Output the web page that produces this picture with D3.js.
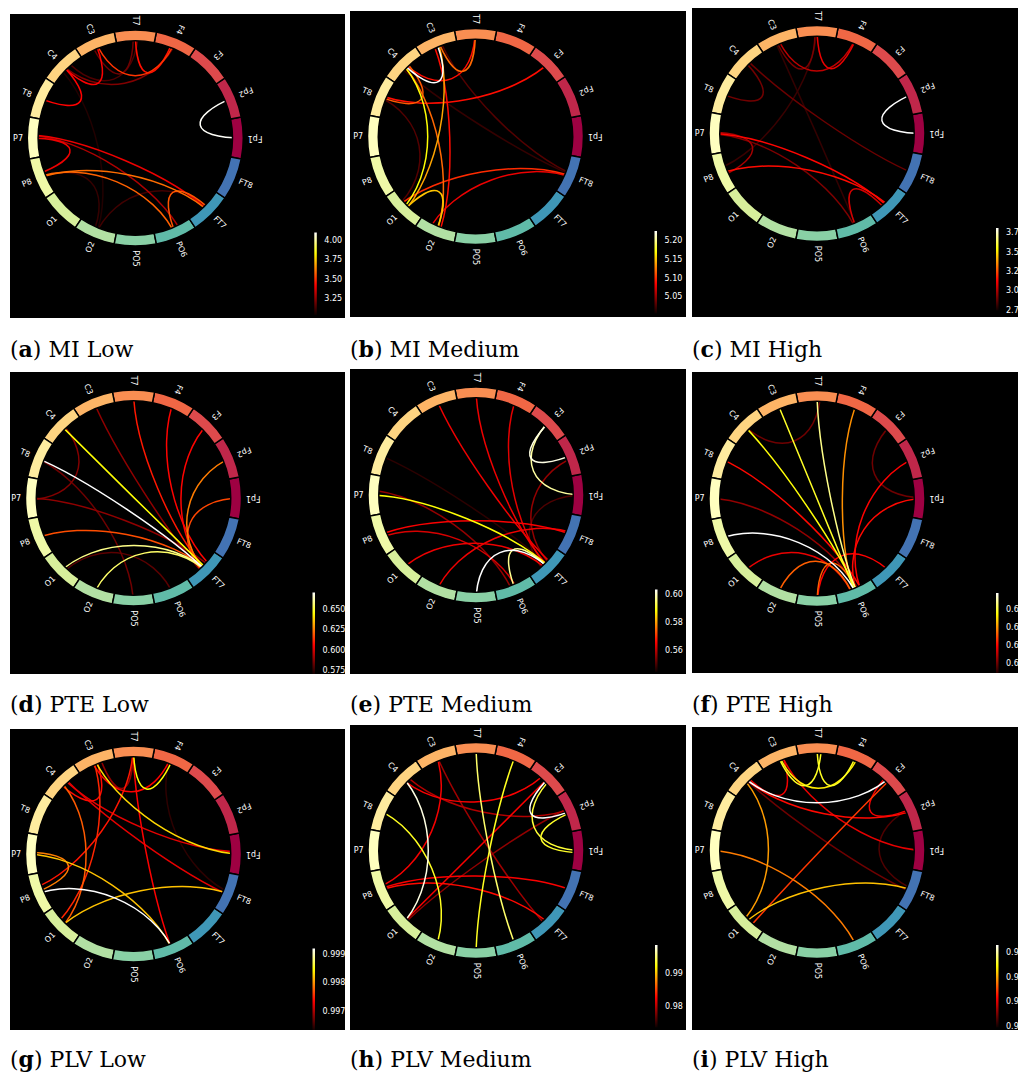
<!DOCTYPE html>
<html>
<head>
<meta charset="utf-8">
<script src="https://cdn.jsdelivr.net/npm/d3@7"></script>
<style>
  body { margin: 0; background: #fff; }
  svg { display: block; }
</style>
</head>
<body>
<svg id="fig" width="1018" height="1076"></svg>
<script>
// ---- Electrode nodes, placed counter-clockwise starting at 3 o'clock ----
const nodeNames = ["Fp1","Fp2","F3","F4","T7","C3","C4","T8",
                   "P7","P8","O1","O2","PO5","PO6","FT7","FT8"];

// ---- Connections per condition: [node A, node B, strength] ----
const miLow = [
  ["Fp1","Fp2",4.09], ["C3","F4",3.51], ["T7","F4",3.45], ["C3","C4",3.42],
  ["C4","T8",3.43], ["T7","C3",3.20], ["C4","F4",3.23], ["C4","T7",3.15],
  ["P7","FT7",3.40], ["P7","PO6",3.30], ["P7","P8",3.40], ["P8","FT7",3.60],
  ["P8","PO6",3.58], ["PO6","FT7",3.56], ["O2","FT7",3.13], ["P8","O2",3.11],
  ["C4","O2",3.08]
];
const miMedium = [
  ["C3","C4",5.225], ["C4","O1",5.17], ["C3","O1",5.14], ["O1","O2",5.15],
  ["C4","O2",5.12], ["C3","O2",5.09], ["T7","C3",5.12], ["T7","C4",5.09],
  ["T8","F3",5.09], ["T8","C4",5.115], ["T8","O1",5.03], ["O1","FT8",5.10],
  ["O2","FT8",5.08], ["C3","FT8",5.03], ["C4","FT8",5.02]
];
const miHigh = [
  ["Fp1","Fp2",3.81], ["C3","F4",3.03], ["T7","F4",3.10], ["T7","C3",2.92],
  ["C4","T8",2.91], ["C4","FT8",2.90], ["P7","FT7",3.14], ["P8","FT7",3.15],
  ["P7","P8",2.99], ["P7","PO6",2.93], ["PO6","FT7",3.06], ["T7","P8",2.82],
  ["C3","PO6",2.81]
];
const pteLow = [
  ["T8","FT7",0.670], ["C4","FT7",0.645], ["O1","FT7",0.658], ["O2","FT7",0.655],
  ["P8","FT7",0.618], ["Fp1","FT7",0.617], ["Fp2","FT7",0.625], ["F3","FT7",0.607],
  ["F4","FT7",0.607], ["T7","FT7",0.610], ["C3","FT7",0.590], ["P7","FT7",0.590],
  ["C4","P7",0.588], ["T8","PO5",0.585], ["O1","PO6",0.582]
];
const pteMedium = [
  ["PO5","FT7",0.6036], ["F3","Fp2",0.602], ["F3","Fp1",0.598], ["PO6","FT7",0.597],
  ["P7","FT7",0.589], ["C3","FT7",0.565], ["T7","FT7",0.565], ["F4","FT7",0.564],
  ["Fp2","FT7",0.557], ["Fp1","FT7",0.551], ["T8","FT7",0.548], ["P8","FT8",0.566],
  ["O1","FT7",0.565], ["O2","FT8",0.565], ["P7","PO6",0.557], ["P8","PO6",0.563]
];
const pteHigh = [
  ["P8","PO6",0.679], ["T7","PO6",0.668], ["C3","PO6",0.659], ["C4","PO6",0.656],
  ["F4","PO6",0.640], ["T8","PO6",0.621], ["P7","PO6",0.605], ["Fp2","PO6",0.620],
  ["Fp1","PO6",0.621], ["O1","PO6",0.617], ["O2","PO6",0.633], ["PO5","PO6",0.633],
  ["PO5","FT7",0.620], ["F3","Fp1",0.600], ["C4","T7",0.600]
];
const plvLow = [
  ["P8","PO6",0.9992], ["T7","F4",0.99847], ["C3","F4",0.99735], ["C3","Fp1",0.9983],
  ["C4","Fp1",0.99725], ["C4","FT8",0.99725], ["O1","FT8",0.99820], ["P7","PO6",0.99820],
  ["P7","P8",0.99790], ["P8","T7",0.99745], ["C4","O1",0.99775], ["C3","O1",0.99752],
  ["C3","C4",0.99740], ["T7","PO6",0.99735], ["T7","C3",0.99688], ["F4","FT8",0.99645]
];
const plvMedium = [
  ["F3","Fp2",0.9985], ["C4","O1",0.9978], ["F3","Fp1",0.9935], ["Fp2","Fp1",0.9932],
  ["T7","PO6",0.9948], ["F4","PO5",0.9930], ["T8","O2",0.9930], ["C3","P8",0.9824],
  ["C3","FT7",0.9792], ["C4","F3",0.9826], ["C4","Fp2",0.9799], ["F3","O1",0.9826],
  ["Fp2","O1",0.9787], ["P8","FT8",0.9826], ["P8","FT7",0.9831]
];
const plvHigh = [
  ["C4","F3",0.9915], ["T7","C3",0.9878], ["T7","F4",0.9878], ["C3","F4",0.9868],
  ["C3","C4",0.9806], ["C4","Fp2",0.9811], ["F3","Fp2",0.9806], ["C3","Fp1",0.9803],
  ["C4","FT8",0.9773], ["F3","O1",0.9823], ["C4","O1",0.9848], ["O1","FT8",0.9857],
  ["P7","PO6",0.9840], ["Fp2","FT8",0.9765]
];

// ---- Colour-scale range [min, max] and colorbar ticks per condition ----
const colorRanges = [
  [3.044, 4.096], [5.006, 5.225], [2.745, 3.81],
  [0.570, 0.670], [0.545, 0.6036], [0.586, 0.679],
  [0.9963, 0.9992], [0.9737, 0.9985], [0.9748, 0.9915]
];
const tickLabels = [
  ["3.25","3.50","3.75","4.00"], ["5.05","5.10","5.15","5.20"], ["2.75","3.00","3.25","3.50","3.75"],
  ["0.575","0.600","0.625","0.650"], ["0.56","0.58","0.60"], ["0.60","0.62","0.64","0.66"],
  ["0.997","0.998","0.999"], ["0.98","0.99"], ["0.975","0.980","0.985","0.990"]
];
const panelLetters = ["a","b","c","d","e","f","g","h","i"];
const panelTitles = ["MI Low","MI Medium","MI High","PTE Low","PTE Medium","PTE High",
                     "PLV Low","PLV Medium","PLV High"];
const panelData = [miLow, miMedium, miHigh, pteLow, pteMedium, pteHigh, plvLow, plvMedium, plvHigh];

// ---- Layout of the nine figure tiles ----
const tiles = [
  {x:10,  y:14,  w:335, h:304, cx:135.3, cy:138.0},
  {x:350, y:11,  w:336, h:306, cx:475.5, cy:136.5},
  {x:692, y:8,   w:330, h:309, cx:817.0, cy:133.5},
  {x:10,  y:372, w:335, h:302, cx:133.5, cy:498.0},
  {x:350, y:369, w:336, h:305, cx:476.0, cy:495.0},
  {x:692, y:372, w:330, h:301, cx:817.0, cy:498.5},
  {x:10,  y:729, w:335, h:301, cx:133.5, cy:854.0},
  {x:350, y:725, w:336, h:305, cx:476.0, cy:850.5},
  {x:692, y:727, w:330, h:303, cx:817.0, cy:850.5}
];
const captionBaselines = [357, 712, 1067];

// ---- Colour maps ----
const spectralStops = ["#9e0142","#d53e4f","#f46d43","#fdae61","#fee08b","#ffffbf",
                       "#e6f598","#abdda4","#66c2a5","#3288bd","#5e4fa2"];
const spectral = d3.piecewise(d3.interpolateRgb, spectralStops);

function hot(f) {
  f = Math.max(0, Math.min(1, f));
  const r = f < 0.365079 ? 0.0416 + (1 - 0.0416) * f / 0.365079 : 1;
  const g = f < 0.365079 ? 0 : (f < 0.746032 ? (f - 0.365079) / (0.746032 - 0.365079) : 1);
  const b = f < 0.746032 ? 0 : (f - 0.746032) / (1 - 0.746032);
  return d3.rgb(r * 255, g * 255, b * 255).formatHex();
}

const svg = d3.select("#fig");
const defs = svg.append("defs");

// Shared vertical gradient for the colorbars (bottom = min, top = max)
const grad = defs.append("linearGradient")
  .attr("id", "hotGrad").attr("x1", 0).attr("y1", 1).attr("x2", 0).attr("y2", 0);
d3.range(0, 1.0001, 0.025).forEach(t => {
  grad.append("stop").attr("offset", t).attr("stop-color", hot(t));
});

const nNodes = nodeNames.length;
const nodeStep = 2 * Math.PI / nNodes;
const nodeAngle = d3.scaleOrdinal().domain(nodeNames)
  .range(nodeNames.map((_, i) => i * nodeStep));
const nodeColor = d3.scaleOrdinal().domain(nodeNames)
  .range(nodeNames.map((_, i) => spectral(i / nNodes)));

const unit = 10.8;          // pixels per polar radius unit (ring sits between 9 and 10)
const frac = v => v - Math.floor(v);

tiles.forEach((t, k) => {
  const g = svg.append("g");
  defs.append("clipPath").attr("id", "clip" + k)
    .append("rect").attr("x", t.x).attr("y", t.y).attr("width", t.w).attr("height", t.h);
  g.attr("clip-path", `url(#clip${k})`);

  g.append("rect").attr("x", t.x).attr("y", t.y).attr("width", t.w).attr("height", t.h)
    .attr("fill", "#000");

  const pt = (theta, r) => [t.cx + r * unit * Math.cos(theta), t.cy - r * unit * Math.sin(theta)];

  const [vmin, vmax] = colorRanges[k];
  const norm = d3.scaleLinear().domain([vmin, vmax]).range([0, 1]);

  // Weakest first so the strongest connections end up on top
  const cons = panelData[k].slice().sort((a, b) => a[2] - b[2]);

  // Spread the line ends a little around each node centre
  const nCon = {}, seen = {};
  nodeNames.forEach(n => { nCon[n] = 0; seen[n] = 0; });
  cons.forEach(c => { nCon[c[0]]++; nCon[c[1]]++; });
  const spreadMax = 0.25 * nodeStep;

  const chords = g.append("g");
  cons.forEach((c, pos) => {
    seen[c[0]]++; seen[c[1]]++;
    const s0 = (frac((pos + 1) * 0.7548776662) * 2 - 1) * spreadMax * (nCon[c[0]] - seen[c[0]]) / nCon[c[0]];
    const s1 = (frac((pos + 1) * 0.5698402910) * 2 - 1) * spreadMax * (nCon[c[1]] - seen[c[1]]) / nCon[c[1]];
    const t0 = nodeAngle(c[0]) + s0, t1 = nodeAngle(c[1]) + s1;
    const p = d3.path();
    p.moveTo(...pt(t0, 10));
    p.bezierCurveTo(...pt(t0, 5), ...pt(t1, 5), ...pt(t1, 10));
    chords.append("path").attr("d", p.toString())
      .attr("fill", "none")
      .attr("stroke", hot(norm(c[2])))
      .attr("stroke-width", 1.5);
  });

  // Node ring
  const arc = d3.arc().innerRadius(9 * unit).outerRadius(10 * unit);
  const ring = g.append("g").attr("transform", `translate(${t.cx},${t.cy})`);
  nodeNames.forEach(n => {
    const a = nodeAngle(n);
    ring.append("path")
      .attr("d", arc({startAngle: Math.PI / 2 - a - nodeStep / 2, endAngle: Math.PI / 2 - a + nodeStep / 2}))
      .attr("fill", nodeColor(n))
      .attr("stroke", "#000").attr("stroke-width", 1.5);
  });

  // Node labels
  nodeNames.forEach(n => {
    const a = nodeAngle(n);
    let deg = a * 180 / Math.PI, anchor;
    if (deg >= 270) { anchor = "start"; } else { deg += 180; anchor = "end"; }
    const [x, y] = pt(a, 10.4);
    g.append("text")
      .attr("transform", `translate(${x},${y}) rotate(${-deg})`)
      .attr("text-anchor", anchor)
      .attr("dominant-baseline", "central")
      .attr("font-family", "DejaVu Sans")
      .attr("font-size", 8)
      .attr("fill", "#fff")
      .text(n);
  });

  // Colorbar
  const cbLeft = t.cx + 179, cbTop = t.cy + 94.5, cbBottom = t.cy + 177, cbW = 2.5;
  const cbScale = d3.scaleLinear().domain([vmin, vmax]).range([cbBottom, cbTop]);
  g.append("rect").attr("x", cbLeft).attr("y", cbTop).attr("width", cbW)
    .attr("height", cbBottom - cbTop).attr("fill", "url(#hotGrad)");
  tickLabels[k].forEach(lbl => {
    g.append("text")
      .attr("x", cbLeft + 10).attr("y", cbScale(+lbl))
      .attr("dominant-baseline", "central")
      .attr("font-family", "DejaVu Sans").attr("font-size", 8)
      .attr("fill", "#fff")
      .text(lbl);
  });

  // Caption
  const cap = svg.append("text")
    .attr("x", t.x).attr("y", captionBaselines[Math.floor(k / 3)])
    .attr("font-family", "DejaVu Serif").attr("font-size", 22).attr("fill", "#000");
  cap.append("tspan").text("(");
  cap.append("tspan").attr("font-weight", "bold").text(panelLetters[k]);
  cap.append("tspan").text(") " + panelTitles[k]);
});
</script>
</body>
</html>
